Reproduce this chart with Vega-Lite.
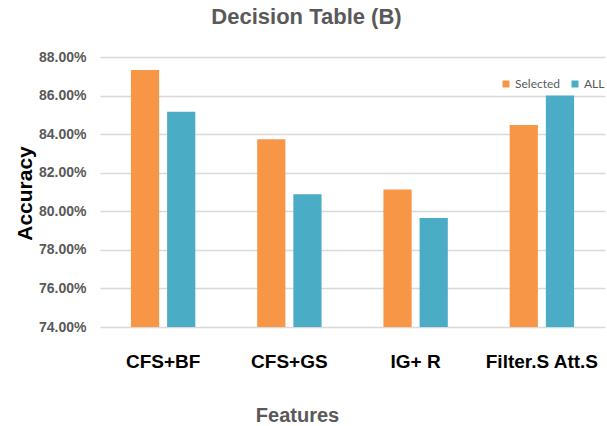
{
  "$schema": "https://vega.github.io/schema/vega-lite/v6.json",
  "width": 505,
  "height": 270,
  "autosize": {"type": "none"},
  "padding": {"left": 100, "top": 57, "right": 2, "bottom": 99},
  "background": "white",
  "title": {
    "text": "Decision Table (B)",
    "anchor": "middle",
    "dx": -46,
    "offset": 21,
    "font": "Liberation Sans",
    "fontSize": 22,
    "fontWeight": "bold",
    "color": "#595959"
  },
  "data": {
    "values": [
      {"feature": "CFS+BF", "series": "Selected", "accuracy": 0.8733},
      {"feature": "CFS+BF", "series": "ALL", "accuracy": 0.8516},
      {"feature": "CFS+GS", "series": "Selected", "accuracy": 0.8374},
      {"feature": "CFS+GS", "series": "ALL", "accuracy": 0.8088},
      {"feature": "IG+ R", "series": "Selected", "accuracy": 0.8113},
      {"feature": "IG+ R", "series": "ALL", "accuracy": 0.7965},
      {"feature": "Filter.S Att.S", "series": "Selected", "accuracy": 0.8447},
      {"feature": "Filter.S Att.S", "series": "ALL", "accuracy": 0.86}
    ]
  },
  "mark": {"type": "bar", "clip": true},
  "encoding": {
    "x": {
      "field": "feature",
      "type": "nominal",
      "sort": null,
      "scale": {"paddingInner": 0.49, "paddingOuter": 0.245},
      "axis": {
        "title": "Features",
        "labelAngle": 0,
        "domain": false,
        "ticks": false,
        "labelPadding": 25,
        "labelFont": "Liberation Sans",
        "labelFontSize": 19,
        "labelFontWeight": "bold",
        "labelColor": "#000000",
        "titleFont": "Liberation Sans",
        "titleFontSize": 20,
        "titleFontWeight": "bold",
        "titleColor": "#595959",
        "titleX": 197,
        "titleY": 88,
        "titleAlign": "center",
        "titleBaseline": "middle"
      }
    },
    "xOffset": {
      "field": "series",
      "type": "nominal",
      "sort": ["Selected", "ALL"],
      "scale": {"paddingInner": 0.22, "paddingOuter": 0}
    },
    "y": {
      "field": "accuracy",
      "type": "quantitative",
      "scale": {"domain": [0.74, 0.88], "zero": false, "nice": false},
      "axis": {
        "title": "Accuracy",
        "values": [0.74, 0.76, 0.78, 0.8, 0.82, 0.84, 0.86, 0.88],
        "format": ".2%",
        "domain": false,
        "ticks": false,
        "labelPadding": 14,
        "labelFont": "Liberation Sans",
        "labelFontSize": 14,
        "labelFontWeight": "bold",
        "labelColor": "#595959",
        "gridColor": "#d9d9d9",
        "gridWidth": 1.5,
        "titleFont": "Liberation Sans",
        "titleFontSize": 21,
        "titleFontWeight": "bold",
        "titleColor": "#000000",
        "titleAngle": -90,
        "titleX": -75,
        "titleY": 136,
        "titleAlign": "center",
        "titleBaseline": "middle"
      }
    },
    "color": {
      "field": "series",
      "type": "nominal",
      "sort": ["Selected", "ALL"],
      "scale": {"domain": ["Selected", "ALL"], "range": ["#F79646", "#4BACC6"]},
      "legend": {
        "title": null,
        "orient": "none",
        "direction": "horizontal",
        "legendX": 400,
        "legendY": 21,
        "symbolType": "square",
        "symbolSize": 49,
        "symbolStrokeWidth": 0,
        "labelFont": "Lato",
        "labelFontSize": 12,
        "labelColor": "#595959",
        "labelOffset": 3,
        "columnPadding": 8
      }
    }
  },
  "config": {"view": {"stroke": null}}
}
